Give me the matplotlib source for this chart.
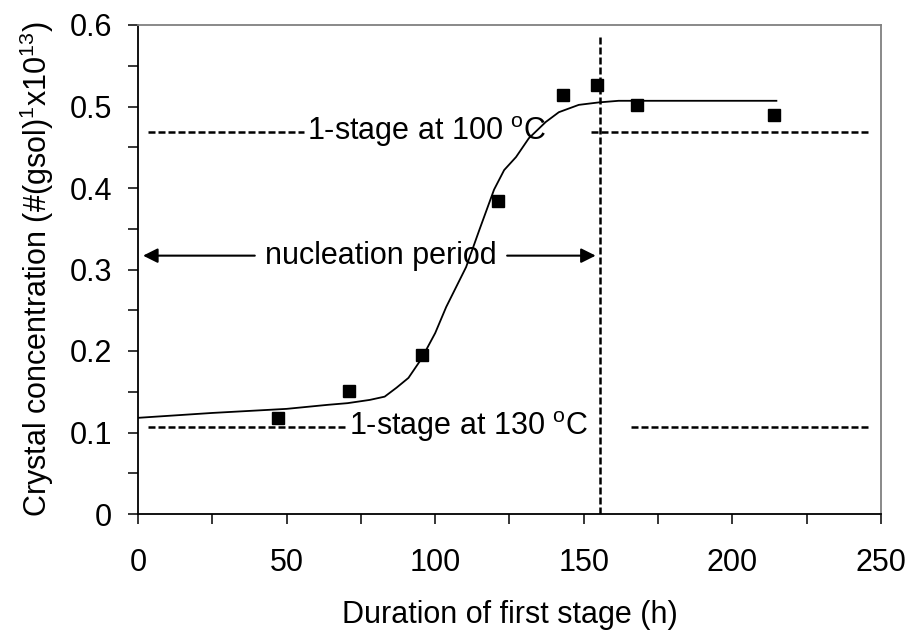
import matplotlib
matplotlib.use("Agg")
import matplotlib.pyplot as plt
import numpy as np

plt.rcParams["font.family"] = ["Liberation Sans", "DejaVu Sans"]
plt.rcParams["mathtext.fontset"] = "custom"
plt.rcParams["mathtext.rm"] = "Liberation Sans"

# Measured crystal concentration
duration_h = [47, 71, 95.5, 121, 143, 154.5, 168, 214]
concentration = [0.118, 0.151, 0.195, 0.384, 0.514, 0.526, 0.502, 0.489]

# Model curve
fit_duration_h = [0, 25, 50, 64, 70.5, 78, 83, 87, 91, 95.3, 100, 103.7, 110.4, 114.8,
                  119.8, 123.2, 127.2, 131.5, 137.2, 141.6, 148.3, 155, 161.7, 170, 214.8]
fit_concentration = [0.118, 0.124, 0.129, 0.134, 0.136, 0.140, 0.144, 0.155, 0.167, 0.190,
                     0.222, 0.254, 0.303, 0.348, 0.398, 0.422, 0.438, 0.461, 0.481, 0.493,
                     0.502, 0.505, 0.507, 0.507, 0.507]

# One-stage reference levels and the end of nucleation
level_100c = 0.469
level_130c = 0.107
nucleation_end = 155.6
arrow_level = 0.317

fig = plt.figure(figsize=(9.12, 6.32), dpi=100)
ax = fig.add_axes([138 / 912, 1 - 514 / 632, (881 - 138) / 912, (514 - 25) / 632])

dash = (0, (2.8, 1.2))
dash_lw = 1.8

# Reference lines
ax.plot([3.4, 56], [level_100c, level_100c], color="k", lw=dash_lw, linestyle=dash)
ax.plot([152.4, 245.6], [level_100c, level_100c], color="k", lw=dash_lw, linestyle=dash)
ax.plot([3.4, 70.5], [level_130c, level_130c], color="k", lw=dash_lw, linestyle=dash)
ax.plot([165.8, 245.6], [level_130c, level_130c], color="k", lw=dash_lw, linestyle=dash)
ax.plot([nucleation_end, nucleation_end], [0, 0.585], color="k", lw=dash_lw, linestyle=dash)

ax.text(57, level_100c, r"1-stage at 100 $^{\rm o}$C", fontsize=22, ha="left", va="center")
ax.text(71, level_130c, r"1-stage at 130 $^{\rm o}$C", fontsize=22, ha="left", va="center")

# Nucleation period arrows
ax.text(81.7, arrow_level, "nucleation period", fontsize=22, ha="center", va="center")
arrow = dict(arrowstyle="-|>", mutation_scale=22, color="k", lw=1.5, shrinkA=0, shrinkB=0)
ax.annotate("", xy=(1.7, arrow_level), xytext=(39.3, arrow_level), arrowprops=arrow)
ax.annotate("", xy=(154, arrow_level), xytext=(124.2, arrow_level), arrowprops=arrow)

# Curve and data
ax.plot(fit_duration_h, fit_concentration, color="k", lw=1.3)
ax.plot(duration_h, concentration, linestyle="none", marker="s", markersize=8.5, color="k")

ax.set_xlim(0, 250)
ax.set_ylim(0, 0.6)
ax.set_xticks(np.arange(0, 251, 50))
ax.set_xticks(np.arange(0, 251, 25), minor=True)
ax.set_yticks(np.arange(0, 0.61, 0.1))
ax.set_yticks(np.arange(0, 0.61, 0.05), minor=True)
ax.set_yticklabels(["0", "0.1", "0.2", "0.3", "0.4", "0.5", "0.6"])

ax.tick_params(which="both", direction="out", length=7.5, width=1.1, labelsize=22)
ax.tick_params(axis="x", which="both", pad=17)
ax.tick_params(axis="y", which="both", pad=11)

for side in ["left", "bottom"]:
    ax.spines[side].set_color("k")
    ax.spines[side].set_linewidth(1.3)
for side in ["top", "right"]:
    ax.spines[side].set_color("#808080")
    ax.spines[side].set_linewidth(1.3)

ax.set_xlabel("Duration of first stage (h)", fontsize=22, labelpad=16)
ax.set_ylabel(r"Crystal concentration (#(gsol)$^{\rm 1}$x10$^{\rm 13}$)", fontsize=22, labelpad=10)

fig.savefig("out.png", dpi=100)
